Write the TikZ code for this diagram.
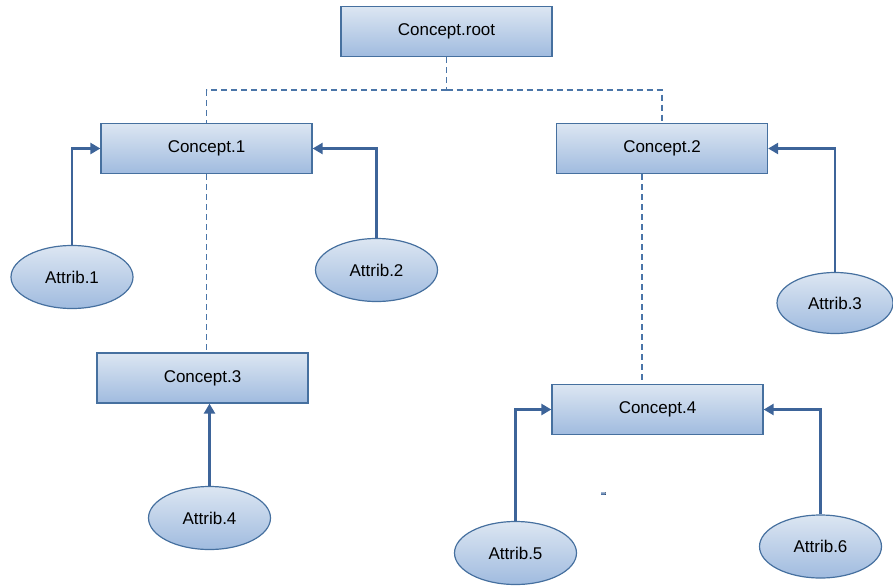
\documentclass[tikz,border=0pt]{standalone}
\usepackage{fontspec}
\setmainfont{Liberation Sans}
\usetikzlibrary{shapes.geometric,arrows.meta}
\definecolor{edge}{HTML}{46709F}
\definecolor{arrc}{HTML}{3D6499}
\definecolor{dashc}{HTML}{4A75A8}
\definecolor{topc}{HTML}{DCE6F2}
\definecolor{botc}{HTML}{A0BBDF}
\tikzset{
  x=1pt, y=-1pt,
  cbox/.style={draw=edge, line width=1.3pt, top color=topc, bottom color=botc,
    minimum width=211pt, minimum height=50pt, inner sep=0pt, font=\fontsize{17}{20}\selectfont},
  attr/.style={ellipse, draw=edge, line width=1.2pt, top color=topc, bottom color=botc,
    minimum width=122pt, minimum height=63pt, inner sep=0pt, font=\fontsize{17}{20}\selectfont},
  arr/.style={draw=arrc, line width=2.6pt, -{Triangle[length=10pt,width=11pt]}},
  dashln/.style={draw=dashc, line width=1.3pt, dash pattern=on 6pt off 4pt},
}
\begin{document}
\begin{tikzpicture}
\useasboundingbox (0,0) rectangle (893,586);
% concepts
\node[cbox] (root) at (446.5,31.5) {Concept.root};
\node[cbox] (c1) at (206.5,148.5) {Concept.1};
\node[cbox] (c2) at (662,148.5) {Concept.2};
\node[cbox] (c3) at (202.5,378) {Concept.3};
\node[cbox] (c4) at (657.5,409.5) {Concept.4};
% attributes
\node[attr] (a1) at (72,277) {Attrib.1};
\node[attr] (a2) at (376.5,270) {Attrib.2};
\node[attr, minimum width=116pt, minimum height=61pt] (a3) at (835,303) {Attrib.3};
\node[attr] (a4) at (209.5,518) {Attrib.4};
\node[attr] (a5) at (515.5,553) {Attrib.5};
\node[attr] (a6) at (820.5,546.5) {Attrib.6};
% dashed hierarchy
\coordinate (j) at (446.5,90);
\coordinate (vx) at (642,0);
\draw[dashln] (root.south) -- (j);
\draw[dashln] (j) -| (c1.north);
\draw[dashln] (j) -| (c2.north);
\draw[dashln] (c1.south) -- (c1.south |- c3.north);
\draw[dashln] (c2.south -| vx) -- (c4.north -| vx);
% attribute arrows
\draw[arr] (a1.north) |- (c1.west);
\draw[arr] (a2.north) |- (c1.east);
\draw[arr] (a3.north) |- (c2.east);
\draw[arr] (a4.north) -- (a4.north |- c3.south);
\draw[arr] (a5.north) |- (c4.west);
\draw[arr] (a6.north) |- (c4.east);
% stray mark
\fill[top color=topc!60!arrc, bottom color=arrc] (601,492) rectangle (605.5,494.5);
\end{tikzpicture}
\end{document}
